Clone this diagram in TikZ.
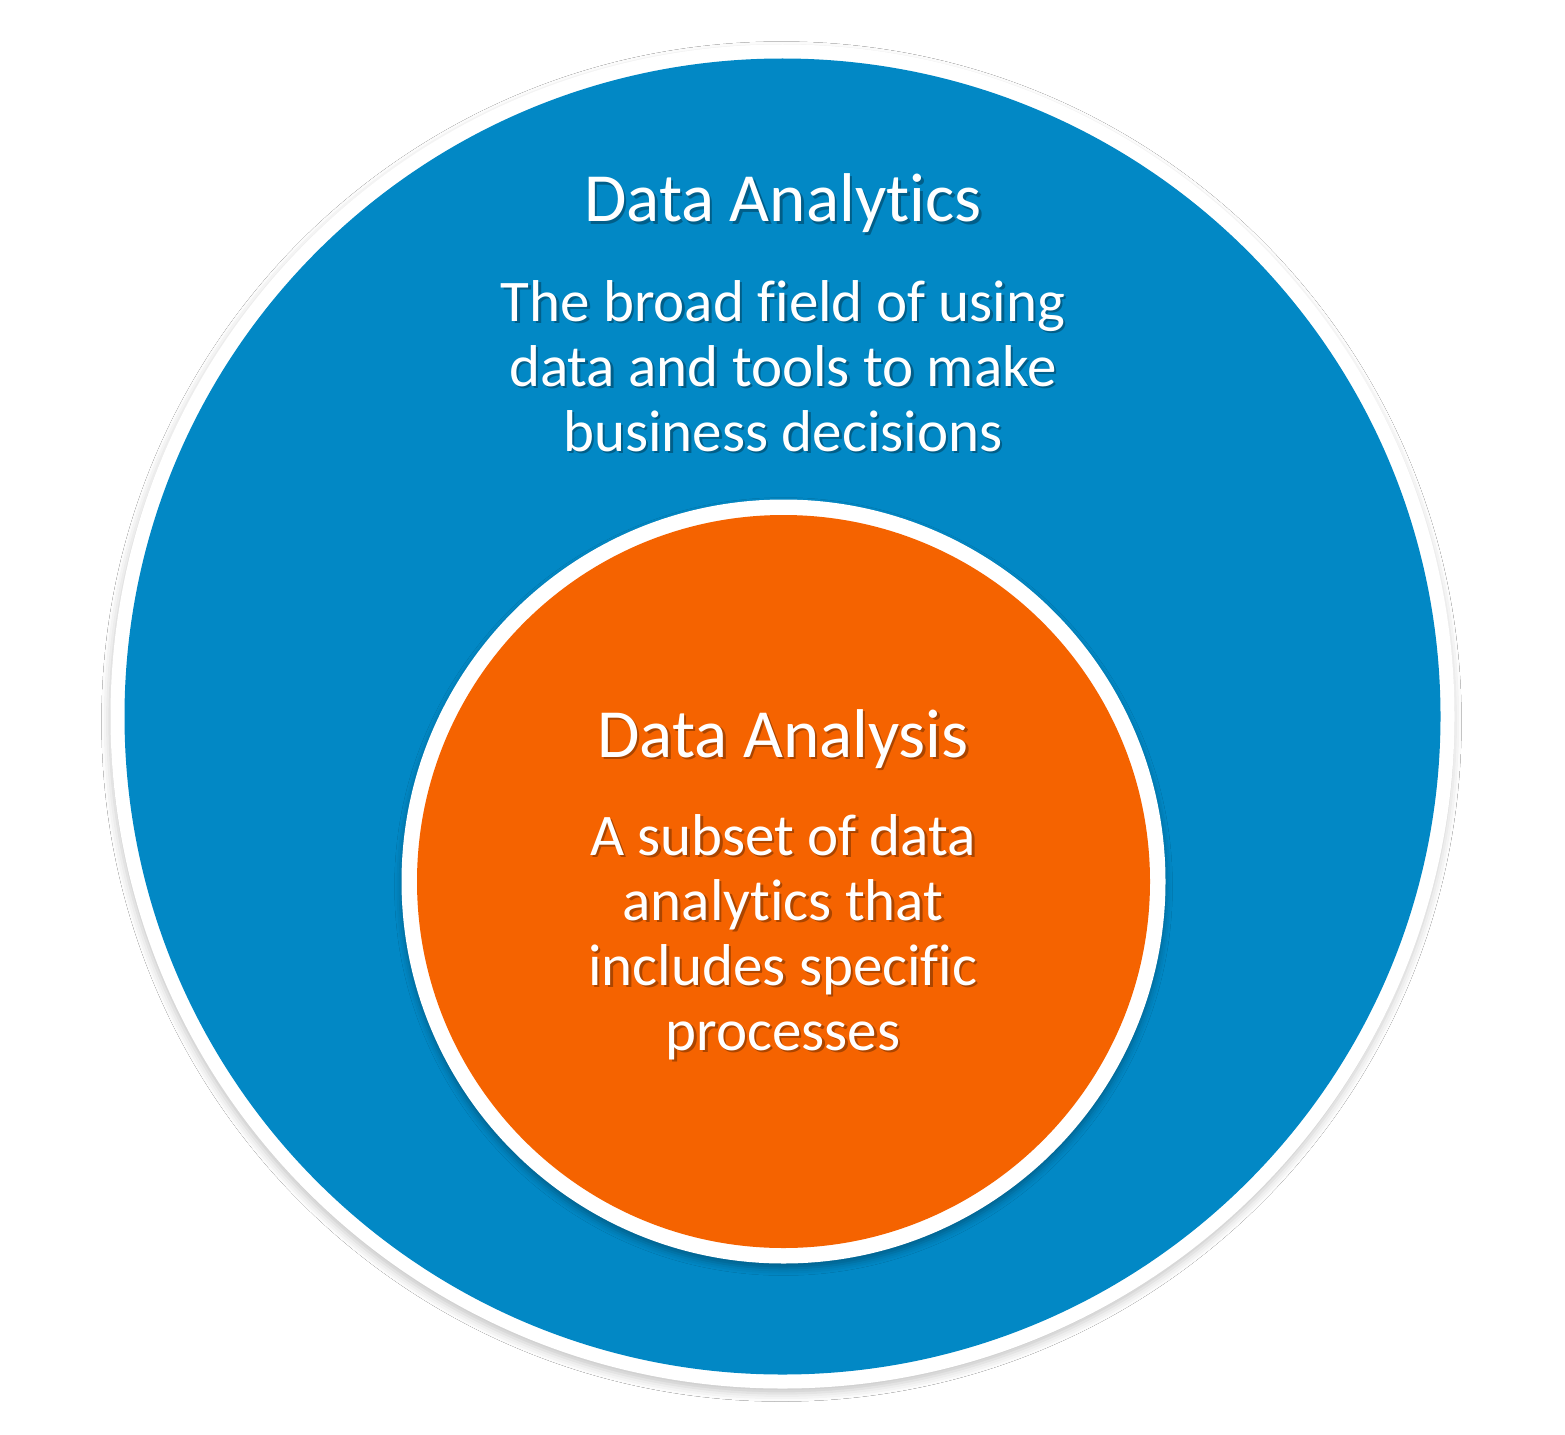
\documentclass[tikz,border=0pt]{standalone}
\usepackage{fontspec}
\setmainfont{Carlito}[Ligatures=NoCommon]
\usetikzlibrary{shadows.blur}
\definecolor{dablue}{RGB}{2,136,197}
\definecolor{daorange}{RGB}{245,99,0}
\begin{document}
\begin{tikzpicture}[x=1pt,y=-1pt,
  ring/.style={circle, fill=white, inner sep=0pt, draw=none},
  disc/.style={circle, inner sep=0pt, draw=none},
  title/.style={anchor=base, text=white, inner sep=0pt, font=\fontsize{69}{76}\selectfont},
  body/.style={anchor=base, text=white, inner sep=0pt, font=\fontsize{59}{65.5}\selectfont},
  tshadow/.style={text=black, opacity=0.3}
]
\useasboundingbox (0,0) rectangle (1565,1434);
\fill[white] (0,0) rectangle (1565,1434);
% outer circle
\node[ring, minimum size=1344pt, blur shadow={shadow xshift=-1pt, shadow yshift=-5pt, shadow blur radius=8pt, shadow opacity=22}] (outerring) at (782.5,716.5) {};
\node[disc, fill=dablue, minimum size=1316pt] (outer) at (782.5,716.5) {};
% inner circle
\node[ring, minimum size=764pt, blur shadow={shadow xshift=0pt, shadow yshift=-5pt, shadow blur radius=7pt, shadow opacity=30}] (innerring) at (783.5,881.5) {};
\node[disc, fill=daorange, minimum size=733pt] (inner) at (783.5,881.5) {};
% outer texts
\foreach \n/\y/\s/\t in {t1/222/title/Data Analytics,
                         b1/321/body/The broad field of using,
                         b2/386/body/data and tools to make,
                         b3/451/body/business decisions,
                         t2/757/title/Data Analysis,
                         c1/855/body/A subset of data,
                         c2/920/body/analytics that,
                         c3/985/body/includes specific,
                         c4/1050/body/processes}{
  \node[\s, tshadow] (\n s) at (785.5,\y+2.5) {\t};
  \node[\s] (\n) at (783,\y) {\t};
}
\end{tikzpicture}
\end{document}
